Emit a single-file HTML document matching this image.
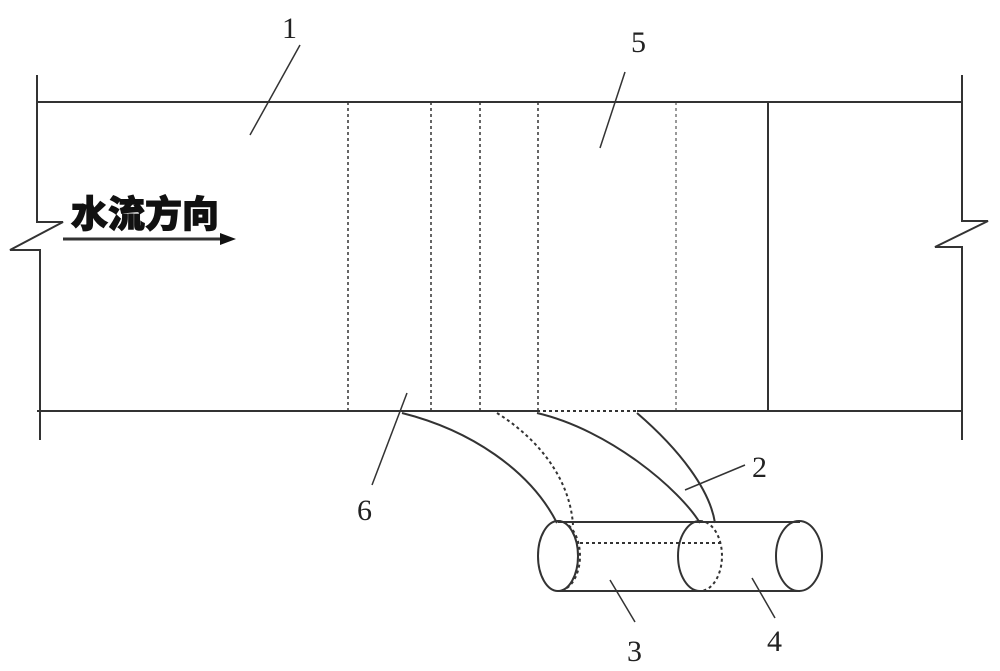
<!DOCTYPE html>
<html><head><style>body{margin:0;background:#fff}svg{display:block}</style></head><body>
<svg width="1000" height="671" viewBox="0 0 1000 671" xmlns="http://www.w3.org/2000/svg" fill="none" stroke="#333" stroke-width="2">
<line x1="37" y1="102" x2="962" y2="102"/>
<line x1="37" y1="411" x2="537" y2="411"/>
<line x1="537" y1="411" x2="637" y2="411" stroke-dasharray="3,3"/>
<line x1="637" y1="411" x2="962" y2="411"/>
<polyline points="37,75 37,222 63,222 10,250 40,250 40,440"/>
<polyline points="962,75 962,221 988,221 935,247 962,247 962,440"/>
<g stroke-dasharray="3,3" stroke-width="1.5">
<line x1="348" y1="102" x2="348" y2="411"/>
<line x1="431" y1="102" x2="431" y2="411"/>
<line x1="480" y1="102" x2="480" y2="411"/>
<line x1="538" y1="102" x2="538" y2="411"/>
<line x1="676" y1="102" x2="676" y2="411" stroke-width="1"/>
</g>
<line x1="768" y1="102" x2="768" y2="411"/>
<path d="M402,413 C470,430 530,470 557,523"/>
<path d="M497,413 C540,440 570,480 573,525" stroke-dasharray="3,3"/>
<path d="M537,413 C610,430 680,490 700,523"/>
<path d="M637,413 C680,450 710,490 715,523"/>
<line x1="558" y1="522" x2="800" y2="522"/>
<line x1="558" y1="591" x2="800" y2="591"/>
<ellipse cx="558" cy="556" rx="20" ry="35"/>
<path d="M558,521 A22,35 0 0 1 558,591" stroke-dasharray="3,3"/>
<path d="M700,521 A22,35 0 0 0 700,591"/>
<path d="M700,521 A22,35 0 0 1 700,591" stroke-dasharray="3,3"/>
<ellipse cx="799" cy="556" rx="23" ry="35"/>
<line x1="580" y1="543" x2="722" y2="543" stroke-dasharray="3,3"/>
<g stroke-width="1.5">
<line x1="300" y1="45" x2="250" y2="135"/>
<line x1="625" y1="72" x2="600" y2="148"/>
<line x1="407" y1="393" x2="372" y2="485"/>
<line x1="745" y1="465" x2="685" y2="490"/>
<line x1="610" y1="580" x2="635" y2="622"/>
<line x1="752" y1="578" x2="775" y2="618"/>
</g>
<line x1="63" y1="239" x2="222" y2="239" stroke-width="3"/>
<polygon points="220,233 236,239 220,245" fill="#111" stroke="none"/>
<g font-family="Liberation Serif, serif" font-size="30" fill="#222" stroke="none">
<text x="282" y="38">1</text>
<text x="631" y="52">5</text>
<text x="752" y="477">2</text>
<text x="357" y="520">6</text>
<text x="627" y="661">3</text>
<text x="767" y="651">4</text>
</g>
<text x="71" y="227" font-family="'Liberation Sans','Noto Sans CJK SC',sans-serif" font-size="37" font-weight="900" fill="#111" stroke="#111" stroke-width="1">水流方向</text>
</svg>
</body></html>
